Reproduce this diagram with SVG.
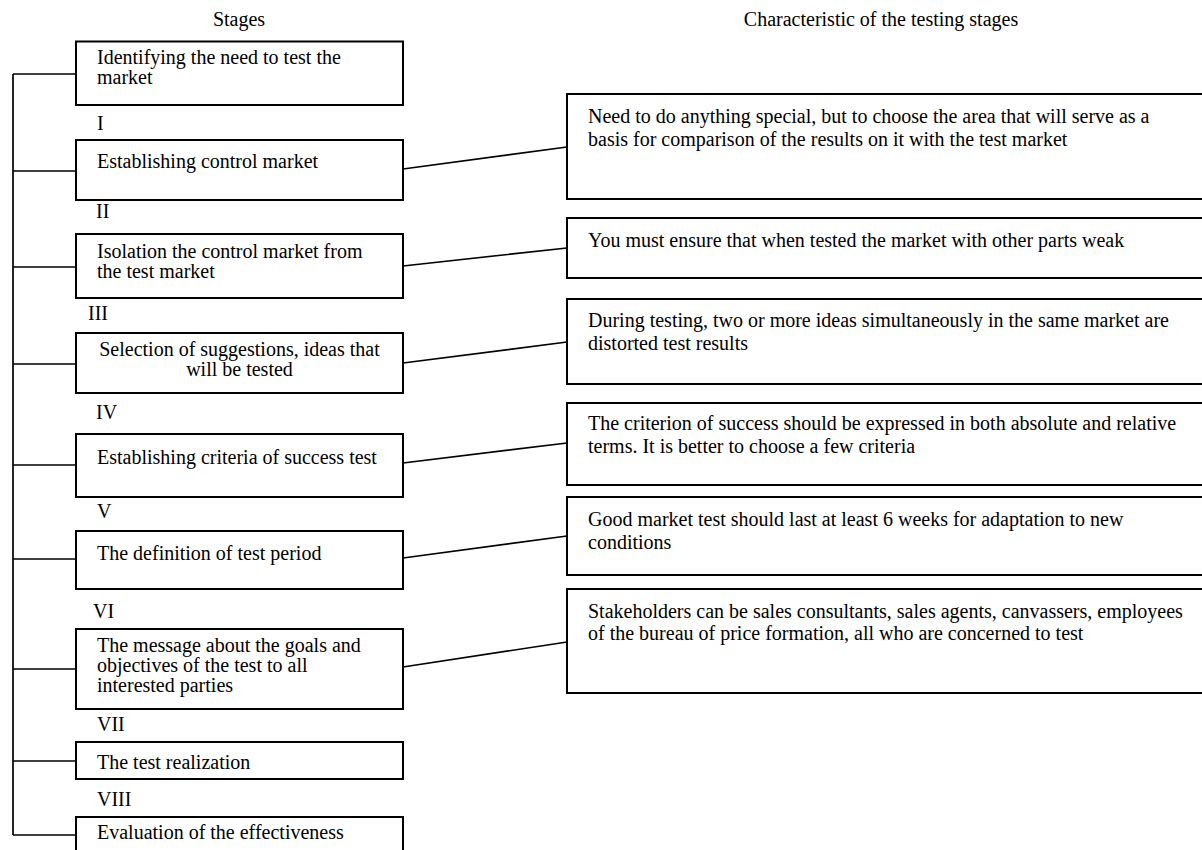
<svg xmlns="http://www.w3.org/2000/svg" width="1202" height="850" viewBox="0 0 1202 850">
<style>
text{font-family:"Liberation Serif","Times New Roman",serif;font-size:20px;fill:#000}
.box{fill:#fff;stroke:#000;stroke-width:2}
.ln{fill:none;stroke:#000;stroke-width:1.7}
.c{text-anchor:middle}
</style>
<rect x="0" y="0" width="1202" height="850" fill="#fff"/>
<g id="headers">
<text class="c" x="239" y="26">Stages</text>
<text class="c" x="881" y="26">Characteristic of the testing stages</text>
</g>
<g id="connectors">
<path class="ln" d="M13,74 V835 M13,74 H76 M13,171 H76 M13,267 H76 M13,364 H76 M13,465 H76 M13,559 H76 M13,669 H76 M13,761 H76 M13,835 H76"/>
<path class="ln" d="M403,169 L567,147 M403,266 L567,248 M403,363 L567,342 M403,463 L567,443 M403,558 L567,536 M403,667 L567,642"/>
</g>
<g id="numerals">
<text x="97" y="130">I</text>
<text x="96" y="218">II</text>
<text x="88" y="320">III</text>
<text x="96" y="419">IV</text>
<text x="97" y="518">V</text>
<text x="93" y="618">VI</text>
<text x="97" y="731">VII</text>
<text x="97" y="806">VIII</text>
</g>
<g id="s1"><rect class="box" x="76" y="41.5" width="327" height="63.5"/><text x="97" y="64">Identifying the need to test the</text><text x="97" y="84">market</text></g>
<g id="s2"><rect class="box" x="76" y="140" width="327" height="60"/><text x="97" y="168">Establishing control market</text></g>
<g id="s3"><rect class="box" x="76" y="234" width="327" height="64"/><text x="97" y="258">Isolation the control market from</text><text x="97" y="278">the test market</text></g>
<g id="s4"><rect class="box" x="76" y="333" width="327" height="60"/><text class="c" x="239.5" y="356">Selection of suggestions, ideas that</text><text class="c" x="239.5" y="376">will be tested</text></g>
<g id="s5"><rect class="box" x="76" y="434" width="327" height="63"/><text x="97" y="464">Establishing criteria of success test</text></g>
<g id="s6"><rect class="box" x="76" y="531" width="327" height="58"/><text x="97" y="560">The definition of test period</text></g>
<g id="s7"><rect class="box" x="76" y="629" width="327" height="80"/><text x="97" y="652">The message about the goals and</text><text x="97" y="672">objectives of the test to all</text><text x="97" y="692">interested parties</text></g>
<g id="s8"><rect class="box" x="76" y="742" width="327" height="37"/><text x="97" y="769">The test realization</text></g>
<g id="s9"><rect class="box" x="76" y="817" width="327" height="60"/><text x="97" y="839">Evaluation of the effectiveness</text></g>
<g id="c1"><rect class="box" x="567" y="94" width="650" height="105"/><text x="588" y="123">Need to do anything special, but to choose the area that will serve as a</text><text x="588" y="146">basis for comparison of the results on it with the test market</text></g>
<g id="c2"><rect class="box" x="567" y="218" width="650" height="60"/><text x="588" y="247">You must ensure that when tested the market with other parts weak</text></g>
<g id="c3"><rect class="box" x="567" y="299" width="650" height="85"/><text x="588" y="327">During testing, two or more ideas simultaneously in the same market are</text><text x="588" y="350">distorted test results</text></g>
<g id="c4"><rect class="box" x="567" y="403" width="650" height="82"/><text x="588" y="430">The criterion of success should be expressed in both absolute and relative</text><text x="588" y="453">terms. It is better to choose a few criteria</text></g>
<g id="c5"><rect class="box" x="567" y="497" width="650" height="78"/><text x="588" y="526">Good market test should last at least 6 weeks for adaptation to new</text><text x="588" y="549">conditions</text></g>
<g id="c6"><rect class="box" x="567" y="589" width="650" height="104"/><text x="588" y="618">Stakeholders can be sales consultants, sales agents, canvassers, employees</text><text x="588" y="640">of the bureau of price formation, all who are concerned to test</text></g>
</svg>
